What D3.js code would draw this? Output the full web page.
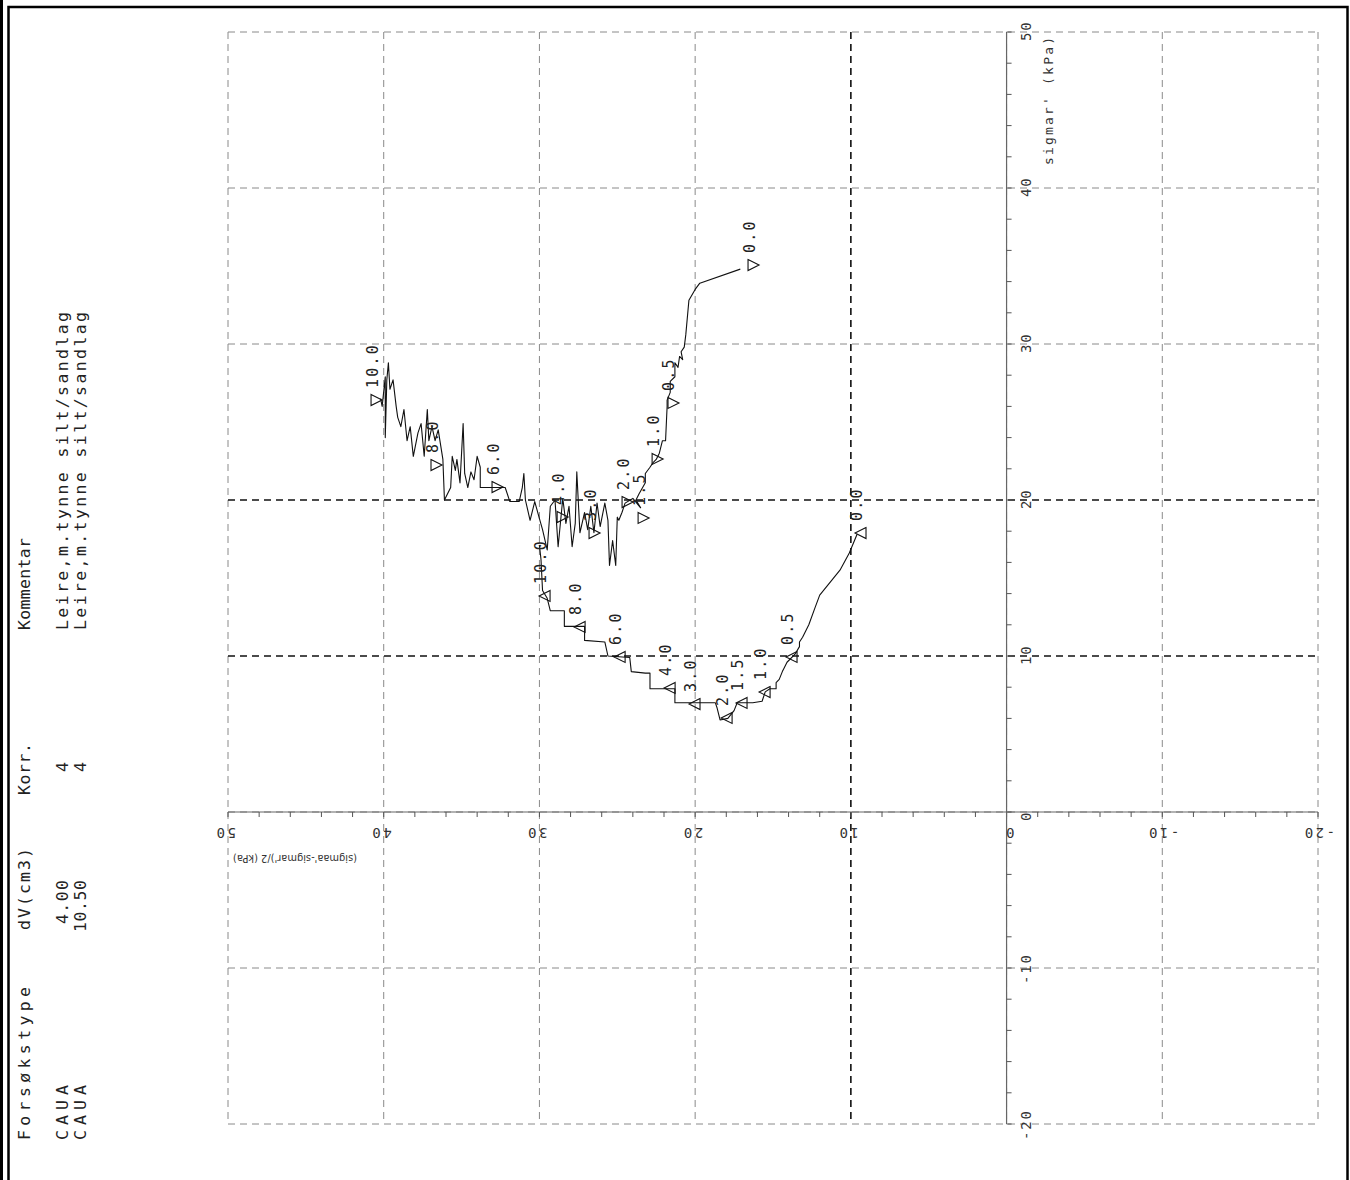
<!DOCTYPE html>
<html><head><meta charset="utf-8">
<script src="https://cdn.jsdelivr.net/npm/d3@7"></script>
<style>body{margin:0;background:#fff}svg{display:block}</style>
</head><body>
<svg id="c" width="1350" height="1180"></svg>
<script>
// ---------------- DATA ----------------
const tauTicks = [50, 40, 30, 20, 10, 0, -10, -20];      // (sigmaa'-sigmar')/2
const sigTicks = [50, 40, 30, 20, 10, 0, -10, -20];      // sigmar'
const tauLabels = ["50", "40", "30", "20", "10", "0", "-10", "-20"];
const sigLabels = ["50", "40", "30", "20", "10", "0", "-10", "-20"];
const tauTitle = "(sigmaa'-sigmar')/2 (kPa)";
const sigTitle = "sigmar' (kPa)";
const strainLabels = ["0.0", "0.5", "1.0", "1.5", "2.0", "3.0", "4.0", "6.0", "8.0", "10.0"];

// test 1 : [tau, sigmar']
const pathA = [[17.1,34.8],[19.7,33.9],[20.0,33.5],[20.4,32.8],[20.6,30.6],[20.7,29.8],[20.9,29.5],[20.8,29.0],
 [21.0,29.2],[21.1,28.5],[21.3,28.8],[21.3,27.9],[21.6,27.6],[21.6,26.9],[21.8,26.4],[21.8,26.0],[21.9,23.8],
 [22.1,23.8],[22.2,23.4],[22.3,23.0],[22.5,22.6],[22.7,22.4],[22.9,22.1],[23.2,21.7],[23.2,21.1],[23.6,20.4],
 [23.8,20.0],[23.5,19.5],[24.0,20.1],[24.5,19.8],[24.7,19.2],[24.9,18.7],[25.0,18.9],[25.1,15.8],[25.3,17.4],
 [25.5,15.8],[25.6,18.7],[25.8,19.8],[26.1,18.3],[26.3,19.8],[26.5,17.9],[26.7,19.6],[26.9,18.1],[27.1,19.2],
 [27.4,17.9],[27.6,21.8],[27.7,18.5],[27.9,17.0],[28.1,19.6],[28.3,18.5],[28.5,20.1],[28.8,17.0],[29.0,20.0],
 [29.3,19.6],[29.5,16.8],[29.8,18.1],[30.0,18.8],[30.3,19.9],[30.6,18.7],[30.9,20.0],[31.0,21.7],[31.1,20.8],
 [31.3,19.9],[31.9,19.9],[32.2,20.8],[33.0,20.8],[33.8,20.8],[33.8,22.1],[34.0,22.8],[34.2,21.3],[34.4,21.8],
 [34.6,20.8],[34.8,21.7],[34.9,24.9],[35.1,21.1],[35.3,22.6],[35.4,21.9],[35.6,22.8],[35.7,20.8],[36.1,20.0],
 [36.2,22.6],[36.5,24.5],[36.7,23.8],[36.9,24.7],[37.1,23.8],[37.2,25.8],[37.4,22.8],[37.6,24.9],[37.8,24.3],
 [38.1,22.8],[38.3,24.7],[38.5,23.8],[38.7,25.8],[38.9,24.7],[39.1,25.3],[39.2,26.0],[39.4,27.7],[39.6,27.1],
 [39.7,28.8],[39.8,27.7],[39.9,24.0],[39.9,27.9],[40.1,26.0],[40.2,26.5]];
const markA = [[16.25,35.06],[21.39,26.22],[22.41,22.63],[23.31,18.85],[24.34,19.87],[26.46,17.88],
 [28.51,18.91],[32.69,20.83],[36.61,22.24],[40.46,26.41]];

// test 2
const pathB = [[9.6,17.8],[10.1,16.6],[10.7,15.5],[12.0,13.9],[12.3,13.1],[12.7,12.0],[13.1,11.2],[13.3,10.9],
 [13.3,10.6],[13.6,10.1],[14.1,9.6],[14.3,9.2],[14.4,9.0],[14.6,8.5],[14.8,8.3],[14.8,7.9],[15.2,7.9],[15.5,7.7],
 [15.7,7.1],[16.3,7.0],[17.3,7.0],[17.5,6.5],[17.9,6.0],[18.4,5.9],[18.6,6.7],[18.7,7.0],[19.7,7.0],[21.3,7.0],
 [21.3,7.5],[21.3,7.9],[22.9,7.9],[22.9,8.9],[23.2,8.9],[24.1,9.0],[24.2,9.9],[25.6,10.0],[25.8,10.9],[27.1,11.0],
 [27.1,11.9],[28.4,11.9],[28.4,12.9],[29.3,12.9],[29.5,13.7],[29.8,14.2],[29.9,16.2],[30.0,17.1]];
const markB = [[9.38,17.88],[13.81,9.94],[15.54,7.69],[17.02,6.99],[17.98,6.03],[20.04,6.92],[21.64,7.95],
 [24.85,9.94],[27.42,11.86],[29.67,13.85]];

const tableHeader = ["Forsøkstype", "dV(cm3)", "Korr.", "Kommentar"];
const tableRow1 = ["CAUA", "4.00", "4", "Leire,m.tynne silt/sandlag"];
const tableRow2 = ["CAUA", "10.50", "4", "Leire,m.tynne silt/sandlag"];

// ---------------- LAYOUT (screen) ----------------
const tableRowX = [30, 68, 86];
const tableLayout = [
  {pos: 1140, anchor: "start", len: [153, 55, 55]},
  {pos: null, anchor: "end",   len: [82, 44, 52]},
  {pos: null, anchor: "start", len: [52, 10, 10]},
  {pos: 630,  anchor: "start", len: [92, 318, 318]}
];

// ---------------- DRAW ----------------
const svg = d3.select("#c");
const FONT = "'DejaVu Sans Mono', 'Liberation Mono', monospace";
const SANS = "'DejaVu Sans', sans-serif";
const x = d3.scaleLinear().domain([50, -20]).range([228, 1318]);
const y = d3.scaleLinear().domain([50, -20]).range([32, 1124]);

// frame
svg.append("line").attr("x1",1.5).attr("x2",1.5).attr("y1",0).attr("y2",1180).attr("stroke","#000").attr("stroke-width",3);
svg.append("rect").attr("x",8.5).attr("y",7).attr("width",1339).attr("height",1190)
  .attr("fill","none").attr("stroke","#000").attr("stroke-width",2.5);

const darkTau = [10], darkSig = [20, 10];
const g = svg.append("g");
g.selectAll(".gv").data(tauTicks).join("line")
  .attr("x1", d => x(d)).attr("x2", d => x(d)).attr("y1", y(50)).attr("y2", y(-20))
  .attr("stroke", d => darkTau.includes(d) ? "#111" : "#8a8a8a")
  .attr("stroke-width", d => darkTau.includes(d) ? 1.6 : 1)
  .attr("stroke-dasharray", "7,5");
g.selectAll(".gh").data(sigTicks).join("line")
  .attr("y1", d => y(d)).attr("y2", d => y(d)).attr("x1", x(50)).attr("x2", x(-20))
  .attr("stroke", d => darkSig.includes(d) ? "#111" : "#8a8a8a")
  .attr("stroke-width", d => darkSig.includes(d) ? 1.6 : 1)
  .attr("stroke-dasharray", "7,5");

// axes
const minor = d3.range(-20, 50.001, 2);
g.append("line").attr("x1", x(50)).attr("x2", x(-20)).attr("y1", y(0)).attr("y2", y(0)).attr("stroke","#666").attr("stroke-width",1.2);
g.selectAll(".tx").data(minor).join("line")
  .attr("x1", d => x(d)).attr("x2", d => x(d)).attr("y1", y(0)).attr("y2", y(0) + 5).attr("stroke","#555");
g.append("line").attr("y1", y(50)).attr("y2", y(-20)).attr("x1", x(0)).attr("x2", x(0)).attr("stroke","#666").attr("stroke-width",1.2);
g.selectAll(".ty").data(minor).join("line")
  .attr("y1", d => y(d)).attr("y2", d => y(d)).attr("x1", x(0)).attr("x2", x(0) + 5).attr("stroke","#555");

// tick labels : horizontal axis (upside down)
g.selectAll(".lx").data(tauTicks).join("text")
  .attr("transform", d => `translate(${x(d) + 8 + (d < 0 ? 9 : 0)},${y(0) + 16}) rotate(180)`)
  .attr("font-family", FONT).attr("font-size", 14).attr("letter-spacing", 2.5).attr("fill", "#333")
  .text((d, i) => tauLabels[i]);
// vertical axis labels (rotated -90)
g.selectAll(".ly").data(sigTicks).join("text")
  .attr("transform", d => `translate(${x(0) + 24},${y(d) + 9 + (d < 0 ? 7 : 0)}) rotate(-90)`)
  .attr("font-family", FONT).attr("font-size", 14).attr("letter-spacing", 1.8).attr("fill", "#333")
  .text((d, i) => sigLabels[i]);
// axis titles
g.append("text").attr("transform", `translate(${x(50) + 129},${y(0) + 43}) rotate(180)`)
  .attr("font-family", SANS).attr("font-size", 11).attr("textLength", 124).attr("lengthAdjust", "spacingAndGlyphs")
  .attr("fill", "#333").text(tauTitle);
g.append("text").attr("transform", `translate(${x(0) + 46},${y(50) + 133}) rotate(-90)`)
  .attr("font-family", FONT).attr("font-size", 13).attr("textLength", 128).attr("fill", "#333").text(sigTitle);

// data lines
const line = d3.line().x(d => x(d[0])).y(d => y(d[1]));
[pathA, pathB].forEach(p => g.append("path").attr("d", line(p)).attr("fill","none")
  .attr("stroke","#111").attr("stroke-width",1.1).attr("stroke-linejoin","round"));

// markers + strain labels
function tri(dir) {
  const s = 5.5;
  return dir > 0 ? `M${-s},${-s}L${s},0L${-s},${s}Z` : `M${s},${-s}L${-s},0L${s},${s}Z`;
}
[[markA, 1], [markB, -1]].forEach(([m, dir]) => {
  g.selectAll(null).data(m).join("path")
    .attr("transform", d => `translate(${x(d[0])},${y(d[1])})`)
    .attr("d", tri(dir)).attr("fill","none").attr("stroke","#111").attr("stroke-width",1.1);
  g.selectAll(null).data(m).join("text")
    .attr("transform", d => `translate(${x(d[0]) + 1},${y(d[1]) - 12}) rotate(-90)`)
    .attr("font-family", FONT).attr("font-size", 15).attr("letter-spacing", 2.2).attr("fill", "#222")
    .text((d, i) => strainLabels[i]);
});

// table (rotated -90)
const rows = [tableHeader, tableRow1, tableRow2];
rows.forEach((row, r) => {
  row.forEach((t, c) => {
    const L = tableLayout[c];
    let pos = L.pos, anchor = L.anchor;
    if (c === 1) { pos = r === 0 ? 930 : 880; anchor = r === 0 ? "start" : "end"; }
    if (c === 2) { pos = r === 0 ? 795 : 772; }
    svg.append("text").attr("transform", `translate(${tableRowX[r]},${pos}) rotate(-90)`)
      .attr("text-anchor", anchor)
      .attr("font-family", FONT).attr("font-size", 16.5)
      .attr("textLength", L.len[r]).attr("lengthAdjust", "spacing")
      .attr("fill", "#222").text(t);
  });
});
</script>
</body></html>
